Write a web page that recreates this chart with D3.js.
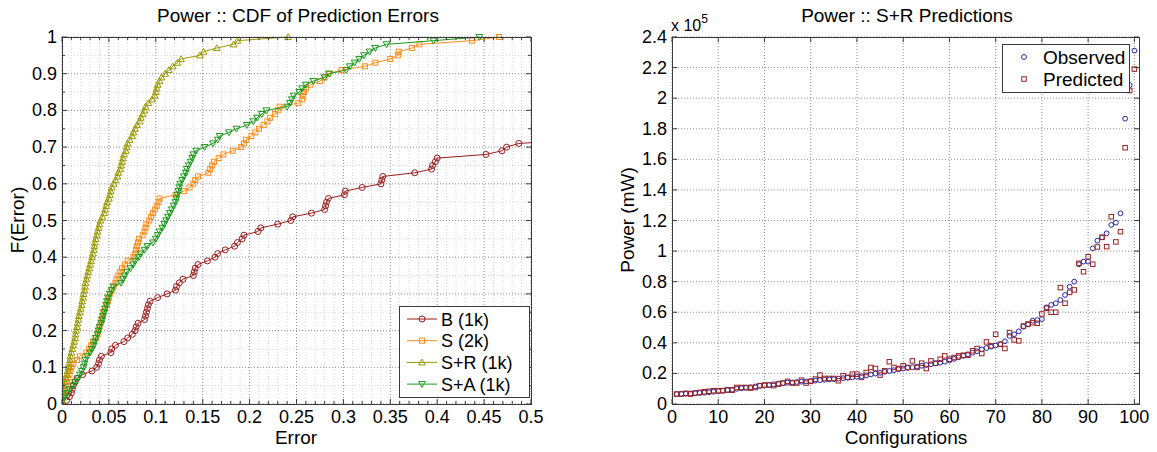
<!DOCTYPE html>
<html>
<head>
<meta charset="utf-8">
<script src="https://cdn.jsdelivr.net/npm/d3@7.9.0/dist/d3.min.js"></script>
<style>
  body { margin: 0; background: #fff; }
  svg { font-family: "Liberation Sans", Arial, sans-serif; }
</style>
</head>
<body>
<svg id="chart" width="1157" height="452"></svg>
<script>
// sorted prediction errors per model (100 configurations each)
const errB = [0.005,0.008,0.010,0.011,0.012,0.014,0.016,0.022,0.032,0.037,0.039,0.040,0.042,0.052,0.053,0.057,0.066,0.070,0.075,0.078,
  0.079,0.081,0.088,0.089,0.090,0.091,0.092,0.094,0.102,0.112,0.121,0.122,0.125,0.129,0.140,0.141,0.142,0.145,0.155,0.163,
  0.166,0.174,0.184,0.187,0.192,0.194,0.209,0.212,0.230,0.244,0.246,0.266,0.280,0.281,0.282,0.284,0.301,0.302,0.320,0.340,
  0.341,0.342,0.376,0.394,0.395,0.398,0.400,0.452,0.469,0.474,0.487,0.552];
const errS = [0.000,0.001,0.002,0.003,0.004,0.005,0.006,0.008,0.009,0.010,0.012,0.016,0.019,0.026,0.029,0.031,0.033,0.036,0.038,0.039,
  0.040,0.041,0.042,0.043,0.044,0.046,0.048,0.049,0.050,0.051,0.053,0.055,0.057,0.058,0.060,0.062,0.064,0.067,0.070,0.076,
  0.078,0.079,0.080,0.081,0.082,0.086,0.088,0.089,0.090,0.093,0.095,0.097,0.099,0.101,0.103,0.104,0.121,0.130,0.136,0.140,
  0.142,0.145,0.156,0.158,0.160,0.162,0.167,0.172,0.182,0.191,0.194,0.196,0.202,0.206,0.210,0.215,0.219,0.222,0.227,0.230,
  0.232,0.252,0.256,0.257,0.258,0.260,0.265,0.275,0.280,0.284,0.298,0.323,0.334,0.350,0.358,0.359,0.373,0.381,0.437,0.466];
const errSR = [0.000,0.000,0.001,0.0015,0.002,0.003,0.004,0.005,0.006,0.007,0.0075,0.0085,0.009,0.010,0.011,0.012,0.013,0.014,0.0145,0.015,
  0.016,0.0165,0.0175,0.018,0.019,0.020,0.021,0.0215,0.0225,0.023,0.024,0.0245,0.025,0.026,0.027,0.028,0.029,0.030,0.031,0.032,
  0.033,0.034,0.0345,0.035,0.036,0.037,0.038,0.039,0.040,0.041,0.043,0.045,0.046,0.047,0.048,0.050,0.051,0.052,0.053,0.055,
  0.057,0.059,0.060,0.062,0.063,0.064,0.065,0.066,0.068,0.069,0.070,0.072,0.075,0.076,0.078,0.080,0.083,0.084,0.086,0.088,
  0.089,0.092,0.096,0.099,0.100,0.101,0.102,0.104,0.106,0.110,0.114,0.118,0.123,0.127,0.147,0.151,0.165,0.183,0.187,0.241];
const errSA = [0.001,0.003,0.006,0.008,0.012,0.014,0.017,0.019,0.021,0.023,0.024,0.025,0.027,0.030,0.032,0.034,0.035,0.036,0.038,0.039,
  0.040,0.042,0.043,0.044,0.045,0.046,0.047,0.048,0.049,0.051,0.053,0.055,0.063,0.065,0.067,0.069,0.073,0.076,0.078,0.082,
  0.084,0.088,0.091,0.097,0.100,0.102,0.104,0.107,0.109,0.111,0.113,0.115,0.117,0.119,0.121,0.122,0.123,0.124,0.125,0.126,
  0.128,0.130,0.132,0.133,0.135,0.137,0.139,0.140,0.143,0.152,0.161,0.166,0.168,0.178,0.186,0.197,0.204,0.208,0.213,0.218,
  0.240,0.243,0.245,0.247,0.253,0.256,0.260,0.268,0.280,0.285,0.303,0.307,0.312,0.317,0.322,0.328,0.334,0.346,0.396,0.445];
const nConfigs = 100;

const cdfNames = ['B (1k)', 'S (2k)', 'S+R (1k)', 'S+A (1k)'];
const cdfColors = ['#9a1b1b', '#ff8c1a', '#999900', '#1a991a'];
const cdfMarkers = ['circle', 'square', 'up', 'down'];

// S+R power per configuration, mW
const observed = [6500,6600,6700,6800,7000,7200,7400,7700,8000,8400,8700,9000,9400,9900,10300,10600,11000,11500,11900,12200,
  12500,12900,13300,13600,13900,14100,14400,14600,14800,15000,15300,15600,15800,16100,16300,16600,16900,17200,17500,17800,
  18200,18700,19300,19900,20400,21000,21600,22100,22700,23200,23700,24100,24500,25000,25500,26000,26500,27000,27700,28500,
  29500,30500,31500,32500,33500,34500,35700,36600,37500,38300,39200,41000,44500,45600,47500,50500,52000,54500,54900,55500,
  63200,64800,65900,68000,71300,76700,80000,91400,93100,93100,101800,106800,109000,111600,117100,118600,124700,186600,208600,231100];
const predicted = [6500,6500,7000,6500,7200,7600,8000,8300,8700,8700,8700,9300,9000,10800,10800,10800,10400,10800,12000,12400,
  12400,12000,13000,13700,14800,13700,13700,15600,13700,14800,16300,18900,16700,16700,16700,15200,18500,17400,19500,19500,
  17400,20600,23900,23200,18900,21700,27600,23900,23200,25000,23900,28200,23900,26700,23200,28200,26700,29300,31500,29300,
  30400,31500,31900,31900,34800,36300,33000,40600,38000,45600,39000,36300,46700,41900,41300,51000,52300,53200,52800,58900,
  62600,60000,60000,76100,65900,73000,74600,92000,86500,96300,91400,102700,109000,102900,122500,106000,112700,167600,205000,219000];

const leftTicksX = [0,0.05,0.1,0.15,0.2,0.25,0.3,0.35,0.4,0.45,0.5];
const leftTicksY = [0,0.1,0.2,0.3,0.4,0.5,0.6,0.7,0.8,0.9,1];
const rightTicksX = [0,10,20,30,40,50,60,70,80,90,100];
const rightTicksY = [0,20000,40000,60000,80000,100000,120000,140000,160000,180000,200000,220000,240000];

const svg = d3.select('#chart');
const tickFont = 18;
const labelFont = 19;
const axisColor = '#3a3a3a';

function marker(g, type, x, y, color, size) {
  if (type === 'circle') {
    g.append('circle').attr('cx', x).attr('cy', y).attr('r', size / 2)
      .attr('fill', 'none').attr('stroke', color).attr('stroke-width', 1);
  } else if (type === 'square') {
    g.append('rect').attr('x', x - size / 2).attr('y', y - size / 2)
      .attr('width', size).attr('height', size)
      .attr('fill', 'none').attr('stroke', color).attr('stroke-width', 1);
  } else {
    const p = d3.symbol(d3.symbolTriangle, size * size * 0.55)();
    g.append('path').attr('d', p)
      .attr('transform', `translate(${x},${y + (type === 'up' ? 0.6 : -0.6)})` + (type === 'down' ? ' rotate(180)' : ''))
      .attr('fill', 'none').attr('stroke', color).attr('stroke-width', 1);
  }
}

function frame(x, y, ticksX, ticksY, minorX, minorY) {
  const g = svg.append('g');
  const [x0, x1] = x.range();
  const [y0, y1] = y.range();
  g.append('rect').attr('x', x0).attr('y', y1).attr('width', x1 - x0).attr('height', y0 - y1).attr('fill', '#fff');
  // minor grid
  minorX.forEach(v => g.append('line').attr('x1', x(v)).attr('x2', x(v)).attr('y1', y0).attr('y2', y1)
    .attr('stroke', '#d6d6d6').attr('stroke-dasharray', '1,2'));
  minorY.forEach(v => g.append('line').attr('x1', x0).attr('x2', x1).attr('y1', y(v)).attr('y2', y(v))
    .attr('stroke', '#d6d6d6').attr('stroke-dasharray', '1,2'));
  // major grid
  ticksX.forEach(v => g.append('line').attr('x1', x(v)).attr('x2', x(v)).attr('y1', y0).attr('y2', y1)
    .attr('stroke', '#8f8f8f').attr('stroke-dasharray', '1,2'));
  ticksY.forEach(v => g.append('line').attr('x1', x0).attr('x2', x1).attr('y1', y(v)).attr('y2', y(v))
    .attr('stroke', '#8f8f8f').attr('stroke-dasharray', '1,2'));
  return g;
}

function box(x, y, ticksX, ticksY, minorX, minorY) {
  const g = svg.append('g');
  const [x0, x1] = x.range();
  const [y0, y1] = y.range();
  const tick = (ax, ay, bx, by) => g.append('line').attr('x1', ax).attr('y1', ay).attr('x2', bx).attr('y2', by)
    .attr('stroke', axisColor).attr('stroke-width', 1);
  ticksX.forEach(v => { tick(x(v), y0, x(v), y0 - 5); tick(x(v), y1, x(v), y1 + 5); });
  ticksY.forEach(v => { tick(x0, y(v), x0 + 5, y(v)); tick(x1, y(v), x1 - 5, y(v)); });
  minorX.forEach(v => { tick(x(v), y0, x(v), y0 - 3); tick(x(v), y1, x(v), y1 + 3); });
  minorY.forEach(v => { tick(x0, y(v), x0 + 3, y(v)); tick(x1, y(v), x1 - 3, y(v)); });
  g.append('rect').attr('x', x0 + 0.5).attr('y', y1 + 0.5).attr('width', x1 - x0).attr('height', y0 - y1)
    .attr('fill', 'none').attr('stroke', axisColor).attr('stroke-width', 1);
}

// ---------- left: CDF ----------
const xL = d3.scaleLinear().domain([0, 0.5]).range([62, 531]);
const yL = d3.scaleLinear().domain([0, 1]).range([404, 37]);
const minorXL = d3.range(1, 50).map(i => i / 100).filter(v => Math.round(v * 100) % 5 !== 0);
const minorYL = leftTicksY.slice(0, -1).map(v => v + 0.05);

frame(xL, yL, leftTicksX, leftTicksY, minorXL, minorYL);

svg.append('clipPath').attr('id', 'clipL').append('rect')
  .attr('x', 62).attr('y', 30).attr('width', 469).attr('height', 380);

const cdfSeries = [errB, errS, errSR, errSA];
const plotL = svg.append('g').attr('clip-path', 'url(#clipL)');
cdfSeries.forEach((errs, si) => {
  const pts = errs.map((e, i) => [e, (i + 1) / nConfigs]);
  plotL.append('path')
    .attr('d', d3.line().x(d => xL(d[0])).y(d => yL(d[1]))(pts))
    .attr('fill', 'none').attr('stroke', cdfColors[si]).attr('stroke-width', 1);
  const mg = plotL.append('g');
  const sz = cdfMarkers[si] === 'square' ? 5 : 6;
  pts.forEach(d => marker(mg, cdfMarkers[si], xL(d[0]), yL(d[1]), cdfColors[si], sz));
});

box(xL, yL, leftTicksX, leftTicksY, minorXL, minorYL);

const fmtL = v => String(+v.toFixed(2));
svg.append('g').selectAll('text').data(leftTicksX).join('text')
  .attr('x', d => xL(d)).attr('y', 423).attr('text-anchor', 'middle')
  .attr('font-size', tickFont).text(fmtL);
svg.append('g').selectAll('text').data(leftTicksY).join('text')
  .attr('x', 57).attr('y', d => yL(d) + 6).attr('text-anchor', 'end')
  .attr('font-size', tickFont).text(fmtL);

svg.append('text').attr('x', 298).attr('y', 22).attr('text-anchor', 'middle')
  .attr('font-size', labelFont).text('Power :: CDF of Prediction Errors');
svg.append('text').attr('x', 296).attr('y', 444).attr('text-anchor', 'middle')
  .attr('font-size', labelFont).text('Error');
svg.append('text').attr('transform', 'translate(24,220) rotate(-90)').attr('text-anchor', 'middle')
  .attr('font-size', labelFont).text('F(Error)');

// legend
const legL = svg.append('g');
legL.append('rect').attr('x', 399.5).attr('y', 306.5).attr('width', 130).attr('height', 91)
  .attr('fill', '#fff').attr('stroke', axisColor);
cdfNames.forEach((name, i) => {
  const yy = 319 + i * 21.7;
  legL.append('line').attr('x1', 407).attr('x2', 437).attr('y1', yy).attr('y2', yy)
    .attr('stroke', cdfColors[i]).attr('stroke-width', 1);
  marker(legL, cdfMarkers[i], 422, yy, cdfColors[i], cdfMarkers[i] === 'square' ? 5 : 6);
  legL.append('text').attr('x', 441).attr('y', yy + 6.5).attr('font-size', 18).text(name);
});

// ---------- right: predictions ----------
const xR = d3.scaleLinear().domain([0, 101]).range([672, 1139]);
const yR = d3.scaleLinear().domain([0, 240000]).range([404, 37]);

frame(xR, yR, rightTicksX, rightTicksY, [], []);

const plotR = svg.append('g');
observed.forEach((v, i) => marker(plotR, 'circle', xR(i + 1), yR(v), '#2323aa', 4.8));
predicted.forEach((v, i) => marker(plotR, 'square', xR(i + 1), yR(v), '#9c2020', 4.5));

box(xR, yR, rightTicksX, rightTicksY, [], []);

svg.append('g').selectAll('text').data(rightTicksX).join('text')
  .attr('x', d => xR(d)).attr('y', 423).attr('text-anchor', 'middle')
  .attr('font-size', tickFont).text(d => d);
svg.append('g').selectAll('text').data(rightTicksY).join('text')
  .attr('x', 667).attr('y', d => yR(d) + 6).attr('text-anchor', 'end')
  .attr('font-size', tickFont).text(d => String(+(d / 1e5).toFixed(1)));

const expo = svg.append('text').attr('x', 671).attr('y', 31).attr('font-size', 16);
expo.append('tspan').text('x 10');
expo.append('tspan').attr('dy', -8).attr('font-size', 12).text('5');

svg.append('text').attr('x', 907).attr('y', 22).attr('text-anchor', 'middle')
  .attr('font-size', labelFont).text('Power :: S+R Predictions');
svg.append('text').attr('x', 906).attr('y', 444).attr('text-anchor', 'middle')
  .attr('font-size', labelFont).text('Configurations');
svg.append('text').attr('transform', 'translate(634,220) rotate(-90)').attr('text-anchor', 'middle')
  .attr('font-size', labelFont).text('Power (mW)');

const legR = svg.append('g');
legR.append('rect').attr('x', 1002.5).attr('y', 44.5).attr('width', 127).attr('height', 48)
  .attr('fill', '#fff').attr('stroke', axisColor);
[['Observed', 'circle', '#2323aa', 4.8], ['Predicted', 'square', '#9c2020', 4.5]].forEach((e, i) => {
  const yy = 57 + i * 22;
  marker(legR, e[1], 1024, yy, e[2], e[3]);
  legR.append('text').attr('x', 1043).attr('y', yy + 7).attr('font-size', 19).text(e[0]);
});
</script>
</body>
</html>
